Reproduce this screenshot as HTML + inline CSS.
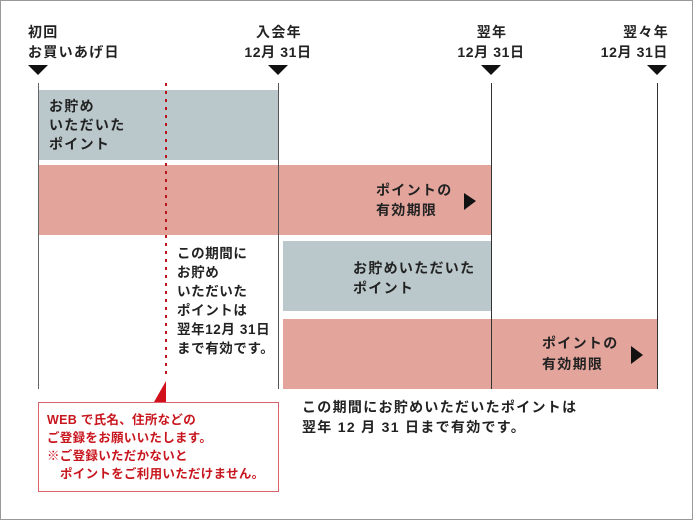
<!DOCTYPE html>
<html><head><meta charset="utf-8"><style>
body{margin:0;width:694px;height:522px;background:#fff;overflow:hidden}
svg text{font-family:"Liberation Sans","Noto Sans CJK JP",sans-serif;font-weight:bold;font-size:14px;letter-spacing:1.3px;fill:#222}
svg text.r{fill:#c8161e;font-size:12.5px;letter-spacing:0.3px}
svg text.c{font-size:13.5px;letter-spacing:0.6px}
svg text.d{letter-spacing:0.6px}
</style></head><body>
<svg width="694" height="522" viewBox="0 0 694 522">
<rect x="0.5" y="0.5" width="692" height="519" fill="#fff" stroke="#999" stroke-width="1"/>
<text x="28" y="37">初回</text>
<text x="28" y="57">お買いあげ日</text>
<text x="279" y="37" text-anchor="middle">入会年</text>
<text class="d" x="278" y="57" text-anchor="middle">12月 31日</text>
<text x="492" y="37" text-anchor="middle">翌年</text>
<text class="d" x="491" y="57" text-anchor="middle">12月 31日</text>
<text x="669" y="37" text-anchor="end">翌々年</text>
<text class="d" x="668" y="57" text-anchor="end">12月 31日</text>
<g fill="#111">
<polygon points="28,65 48,65 38,75"/>
<polygon points="268,65 288,65 278,75"/>
<polygon points="481,65 501,65 491,75"/>
<polygon points="647,65 667,65 657,75"/>
</g>
<rect x="38" y="90" width="240" height="70" fill="#bac8cb"/>
<rect x="38" y="165" width="453" height="70" fill="#e3a49c"/>
<rect x="283" y="241" width="208" height="70" fill="#bac8cb"/>
<rect x="283" y="319" width="374" height="70" fill="#e3a49c"/>
<g stroke="#333" stroke-width="1">
<line x1="38.5" y1="83" x2="38.5" y2="389" stroke="#666"/>
<line x1="278.5" y1="83" x2="278.5" y2="389" stroke="#555"/>
<line x1="491.5" y1="83" x2="491.5" y2="389"/>
<line x1="657.5" y1="83" x2="657.5" y2="389"/>
</g>
<line x1="166" y1="83" x2="166" y2="378" stroke="#b8141c" stroke-width="2" stroke-dasharray="3,5"/>
<polygon points="154,402 166,381 166,402" fill="#d0101b"/>
<rect x="38.5" y="402.5" width="240" height="89" fill="#fff" stroke="#d9636a" stroke-width="1"/>
<text x="49" y="111">お貯め</text>
<text x="49" y="130">いただいた</text>
<text x="49" y="149">ポイント</text>
<text x="376" y="195">ポイントの</text>
<text x="376" y="215">有効期限</text>
<polygon points="464,193 476,201 464,210" fill="#111"/>
<text class="c" x="177" y="258">この期間に</text>
<text class="c" x="177" y="277">お貯め</text>
<text class="c" x="177" y="296">いただいた</text>
<text class="c" x="177" y="315">ポイントは</text>
<text class="c" x="177" y="334">翌年12月 31日</text>
<text class="c" x="177" y="353">まで有効です。</text>
<text x="353" y="273">お貯めいただいた</text>
<text x="353" y="293">ポイント</text>
<text x="542" y="348">ポイントの</text>
<text x="542" y="369">有効期限</text>
<polygon points="631,346 643,355 631,364" fill="#111"/>
<text x="302" y="412">この期間にお貯めいただいたポイントは</text>
<text x="302" y="432">翌年 12 月 31 日まで有効です。</text>
<text class="r" x="47" y="424">WEB で氏名、住所などの</text>
<text class="r" x="47" y="442">ご登録をお願いいたします。</text>
<text class="r" x="47" y="460">※ご登録いただかないと</text>
<text class="r" x="60" y="478">ポイントをご利用いただけません。</text>
</svg>
</body></html>
